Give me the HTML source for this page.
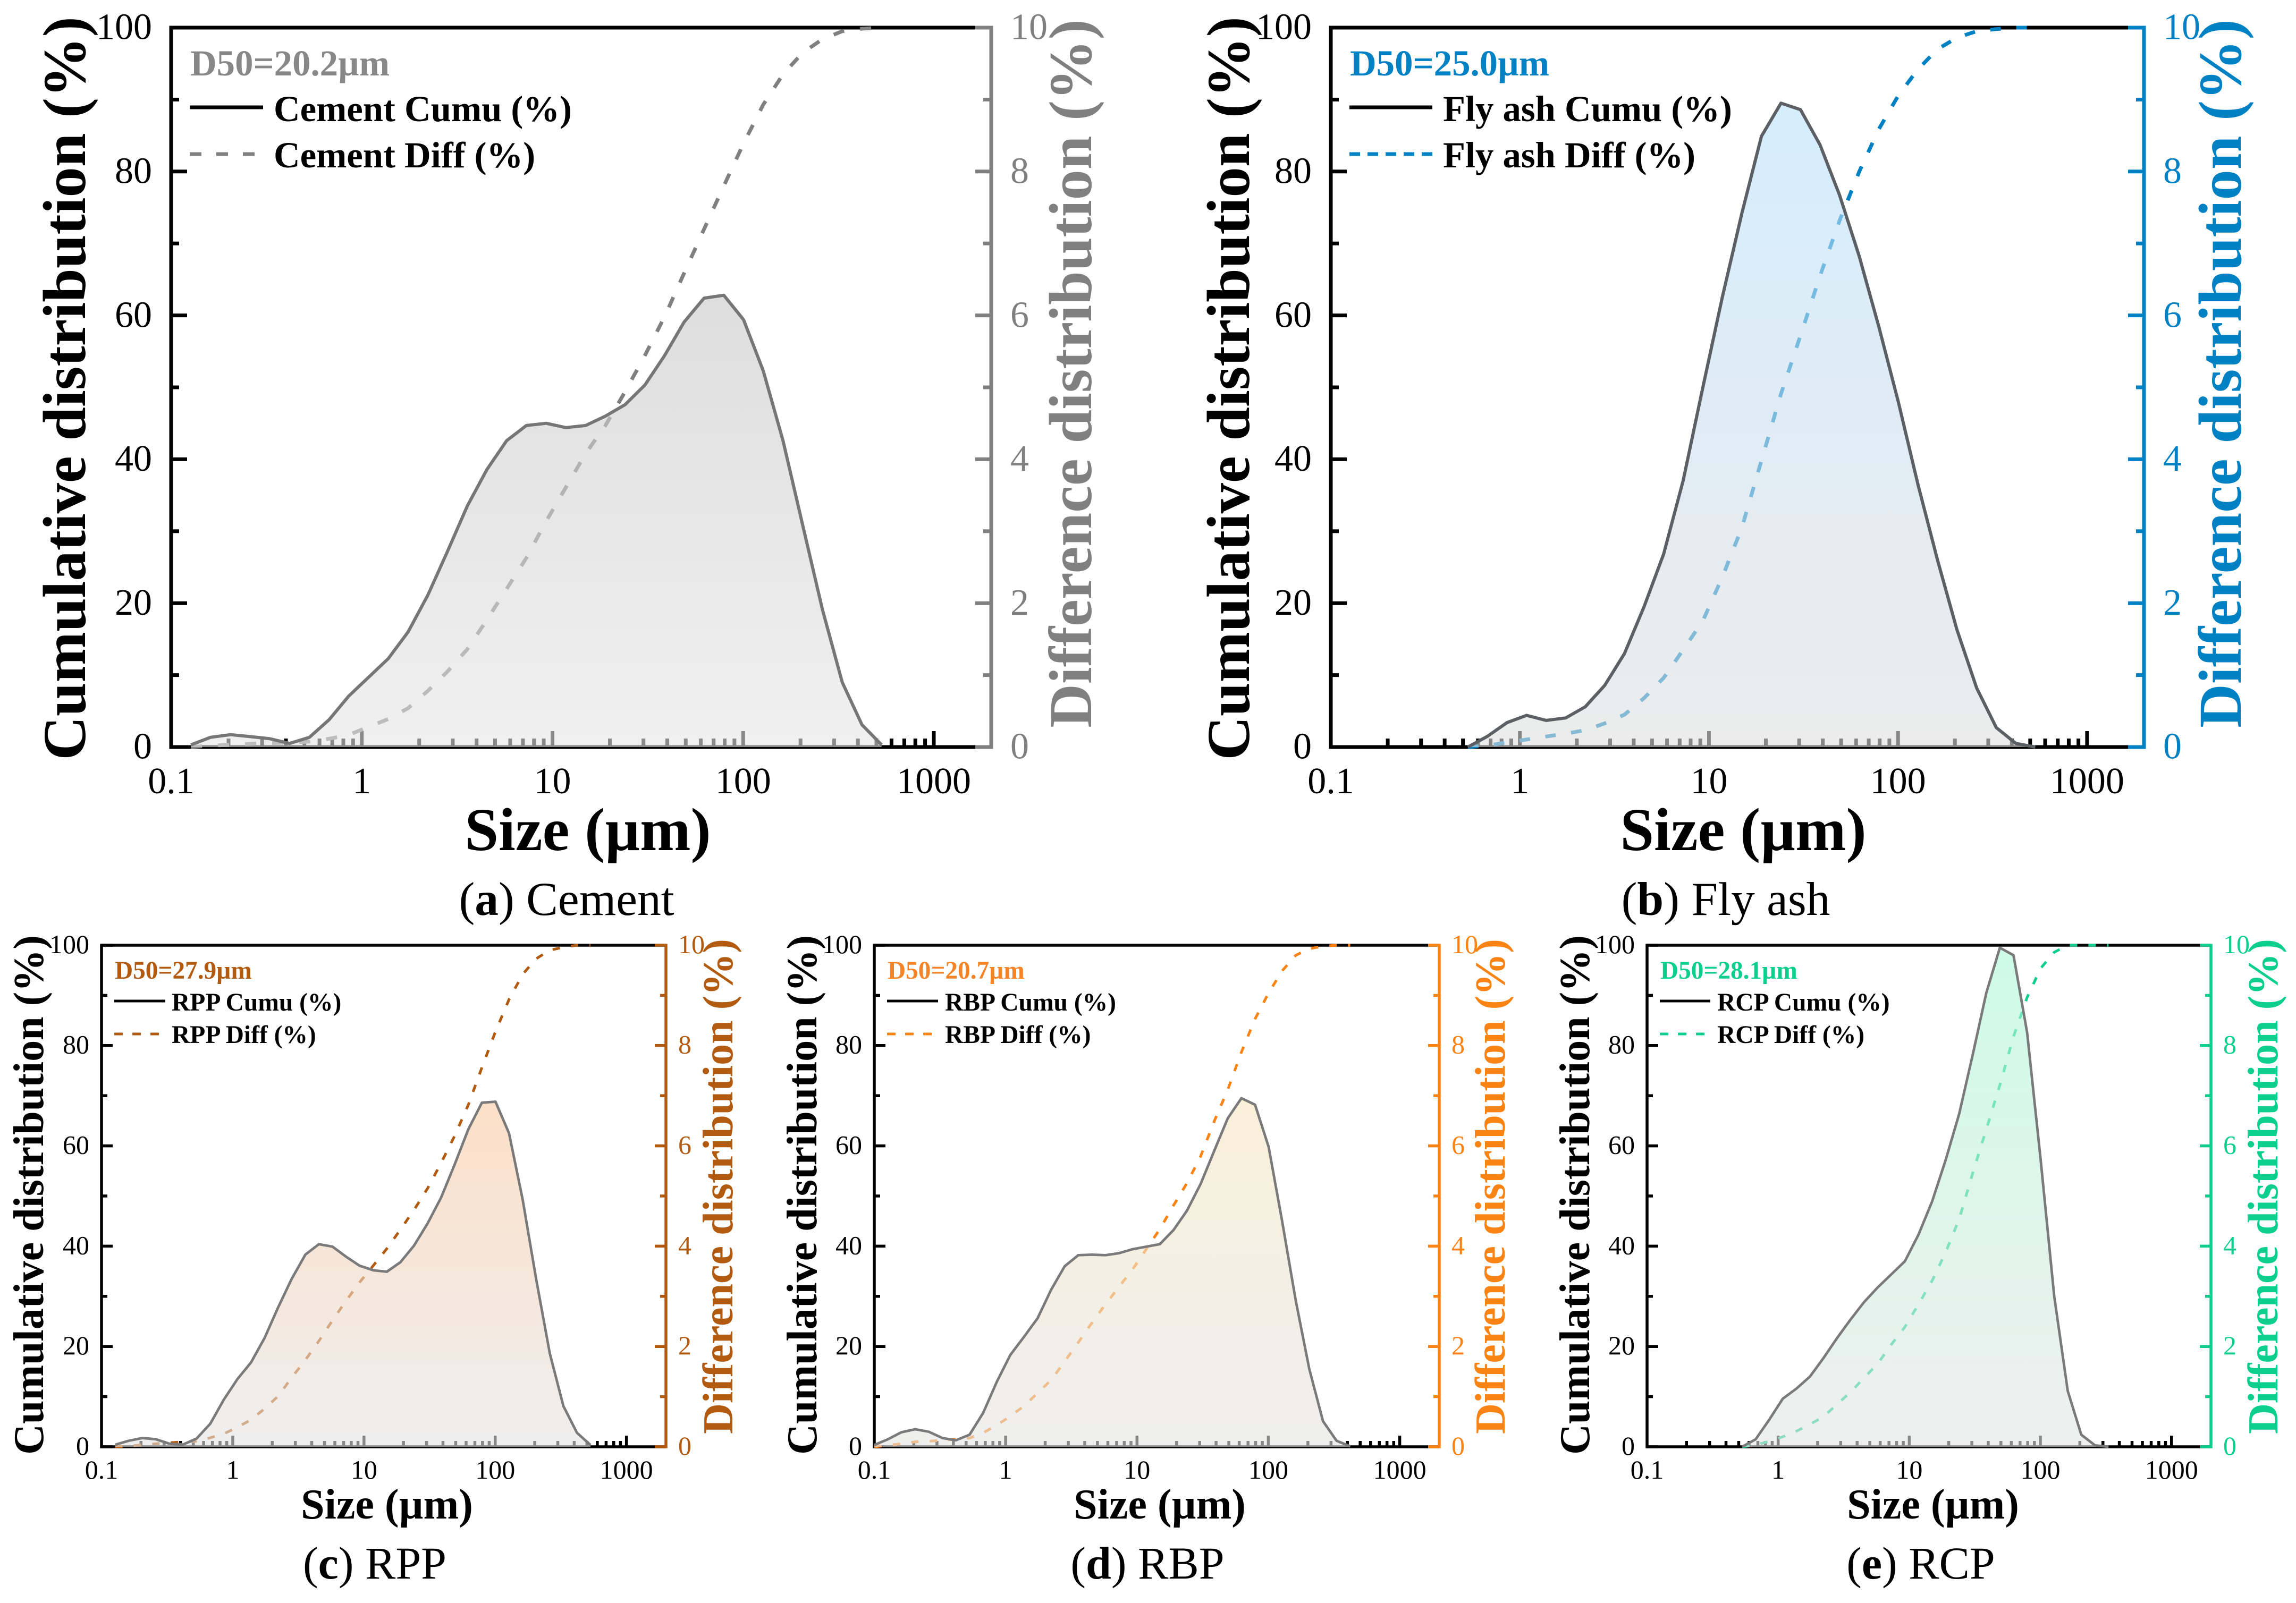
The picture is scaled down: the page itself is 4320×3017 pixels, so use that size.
<!DOCTYPE html>
<html lang="en">
<head>
<meta charset="utf-8">
<title>Particle size distributions</title>
<style>
html,body{margin:0;padding:0;background:#fff;}
svg{display:block;font-family:"Liberation Serif","Times New Roman",serif;}
</style>
</head>
<body>
<svg id="figure" xmlns="http://www.w3.org/2000/svg" width="4320" height="3017" viewBox="0 0 4320 3017">
<rect x="0" y="0" width="4320" height="3017" fill="#ffffff"/>
<defs id="defs"></defs>
</svg>
<script>
// ---------- data ----------
const sizes = [0.1,0.127,0.161,0.205,0.26,0.33,0.418,0.531,0.674,0.855,1.085,1.377,1.748,2.218,2.815,3.573,4.535,5.754,7.3,9.27,11.76,14.93,18.95,24.04,30.5,38.7,49.1,62.4,79.2,100.5,127.5,161.8,205,260.6,331,420,532];

const cementCumu = [null,0.3,1.35,1.72,1.45,1.15,0.5,1.35,3.8,7.1,9.7,12.3,16,21.1,27.2,33.5,38.6,42.6,44.7,45,44.4,44.7,46,47.6,50.3,54.4,59.1,62.4,62.8,59.4,52.3,42.6,30.9,19.1,9,3.1,0.3];
const cementDiff = [null,0,0.02,0.03,0.045,0.055,0.062,0.075,0.115,0.17,0.28,0.39,0.54,0.78,1.05,1.36,1.77,2.2,2.63,3.14,3.61,4.08,4.47,4.94,5.44,5.98,6.59,7.2,7.8,8.39,8.93,9.35,9.65,9.84,9.95,9.985,10];

const flyAshCumu = [null,null,null,null,null,null,null,0,1.5,3.4,4.4,3.7,4.05,5.6,8.6,13,19.5,26.8,37,49.9,62.5,74.2,84.9,89.5,88.6,83.7,76.7,68.2,58.4,47.9,36.5,26,16.3,8.2,2.7,0.5,0];
const flyAshDiff = [null,null,null,null,null,null,null,0,0.02,0.065,0.105,0.146,0.186,0.235,0.33,0.45,0.68,0.96,1.35,1.75,2.36,3.05,3.98,4.91,5.72,6.55,7.32,8,8.59,9.06,9.42,9.7,9.86,9.95,9.98,10,10];

const rppCumu = [null,0.4,1.2,1.75,1.5,0.6,0.45,1.65,4.6,9.4,13.5,16.8,21.7,27.8,33.5,38.3,40.4,39.9,37.9,36.1,35.2,34.9,36.8,40.1,44.5,49.7,56.3,63.3,68.6,68.8,62.5,49.3,33.5,18.6,8.1,2.8,0.35];
const rppDiff = [null,0,0.01,0.04,0.06,0.08,0.1,0.11,0.18,0.26,0.39,0.54,0.76,1.01,1.38,1.73,2.11,2.52,2.91,3.28,3.61,3.95,4.33,4.72,5.15,5.66,6.2,6.82,7.56,8.28,8.92,9.42,9.73,9.9,9.96,10,10];

const rbpCumu = [0.35,1.5,2.9,3.5,3,1.75,1.3,2.4,6.75,12.9,18.3,21.9,25.6,31.3,36,38.2,38.3,38.2,38.6,39.4,39.9,40.4,43.2,47.1,52.4,59,65.5,69.5,68.2,59.8,44.9,29.1,15.5,5.1,1.2,0.1,null];
const rbpDiff = [0,0.03,0.06,0.1,0.11,0.13,0.15,0.175,0.28,0.43,0.61,0.81,1.07,1.33,1.7,2.08,2.47,2.84,3.19,3.54,3.94,4.34,4.81,5.26,5.79,6.49,7.12,7.87,8.53,9.05,9.49,9.8,9.93,9.98,10,10,null];

const rcpCumu = [null,null,null,null,null,null,null,0,1.5,5.4,9.6,11.6,14,17.7,21.7,25.4,28.9,31.8,34.4,37,42.3,48.9,57.2,66.4,78.2,90.5,99.5,98,82.6,57.2,30,11.1,2.4,0.3,0,null,null];
const rcpDiff = [null,null,null,null,null,null,null,0,0.035,0.11,0.2,0.31,0.45,0.6,0.85,1.09,1.38,1.66,2.04,2.39,2.84,3.31,3.88,4.54,5.46,6.33,7.21,8.18,8.96,9.54,9.86,10,10,10,10,null,null];

const xTickValues = [0.1,1,10,100,1000];
const xTickLabels = ["0.1","1","10","100","1000"];
const xMinorMultipliers = [2,3,4,5,6,7,8,9];
const leftTickValues = [0,20,40,60,80,100];
const leftMinorValues = [10,30,50,70,90];
const rightTickValues = [0,2,4,6,8,10];
const rightMinorValues = [1,3,5,7,9];

// ---------- layout and style of each panel ----------
const big = {axisW:7, major:30, minor:15, xMajor:30, xMinor:16, lineW:6, dashW:7, keyW:7, tick:70, title:114.5, legend:68.7, d50:68.8,
  labelGapL:36, labelGapR:36, xLabelDy:87, d50Dx:36, d50Y:142, legY1:228, legY2:315, lineY1:202, lineY2:290, lineDx1:35, capSize:89.5};
const small = {axisW:5.5, major:21, minor:11, xMajor:21, xMinor:11, lineW:4.8, dashW:5, keyW:5, tick:50, title:80, legend:47.5, d50:47.3,
  labelGapL:23, labelGapR:23, xLabelDy:60, d50Dx:25, d50Y:1842, legY1:1902, legY2:1963, lineY1:1884, lineY2:1946, lineDx1:24, capSize:86};

const panels = [
 {key:'cement', name:'Cement', cap:'a', s:big, L:322, R:1865, T:52, B:1406, color:'#808080', d50Color:'#888888', d50:'D50=20.2µm',
  cumu:cementCumu, diff:cementDiff, legendCumu:'Cement Cumu (%)', legendDiff:'Cement Diff (%)', gradTop:'#c8c8c8', gradBot:'#e6e6e6', lineColor:'#767676', dash:'21 30', keyDash:'22 28',
  leftTitleX:160, leftTitleY:731, rightTitleX:2053, rightTitleY:703, xTitleX:1106, xTitleY:1600, capX:1066, capY:1722, legDx:193, lineDx2:173},
 {key:'fly-ash', name:'Fly ash', cap:'b', s:big, L:2504, R:4034, T:52, B:1406, color:'#0081c4', d50Color:'#0081c4', d50:'D50=25.0µm',
  cumu:flyAshCumu, diff:flyAshDiff, legendCumu:'Fly ash Cumu (%)', legendDiff:'Fly ash Diff (%)', gradTop:'#b9e1fc', gradBot:'#dfdfdf', lineColor:'#5c6064', dash:'20 29', keyDash:'20 14',
  leftTitleX:2350, leftTitleY:731, rightTitleX:4216, rightTitleY:703, xTitleX:3280, xTitleY:1600, capX:3247, capY:1722, legDx:211, lineDx2:191},
 {key:'rpp', name:'RPP', cap:'c', s:small, L:191, R:1253, T:1779, B:2723, color:'#b25a10', d50Color:'#b25a10', d50:'D50=27.9µm',
  cumu:rppCumu, diff:rppDiff, legendCumu:'RPP Cumu (%)', legendDiff:'RPP Diff (%)', gradTop:'#facaa3', gradBot:'#e4e4e4', lineColor:'#7a7a7a', dash:'14 21', keyDash:'16 18',
  leftTitleX:81, leftTitleY:2249, rightTitleX:1378, rightTitleY:2233, xTitleX:728, xTitleY:2858, capX:705, capY:2971, legDx:132, lineDx2:120},
 {key:'rbp', name:'RBP', cap:'d', s:small, L:1645, R:2708, T:1779, B:2723, color:'#fb8313', d50Color:'#f58426', d50:'D50=20.7µm',
  cumu:rbpCumu, diff:rbpDiff, legendCumu:'RBP Cumu (%)', legendDiff:'RBP Diff (%)', gradTop:'#f5e6c1', gradBot:'#e4e4e4', lineColor:'#7a7a7a', dash:'14 21', keyDash:'16 18',
  leftTitleX:1536, leftTitleY:2249, rightTitleX:2831, rightTitleY:2233, xTitleX:2182, xTitleY:2858, capX:2159, capY:2971, legDx:133, lineDx2:120},
 {key:'rcp', name:'RCP', cap:'e', s:small, L:3099, R:4160, T:1779, B:2723, color:'#0ccf8e', d50Color:'#0ccf8e', d50:'D50=28.1µm',
  cumu:rcpCumu, diff:rcpDiff, legendCumu:'RCP Cumu (%)', legendDiff:'RCP Diff (%)', gradTop:'#acf8d9', gradBot:'#e4e5e4', lineColor:'#7a7a7a', dash:'14 21', keyDash:'16 18',
  leftTitleX:2990, leftTitleY:2249, rightTitleX:4285, rightTitleY:2233, xTitleX:3637, xTitleY:2858, capX:3614, capY:2971, legDx:132, lineDx2:119}
];

const X_MIN = 0.1, X_MAX = 2000;
const NS = 'http://www.w3.org/2000/svg';
const root = document.getElementById('figure');
const defs = document.getElementById('defs');

function make(parent, tag, props, content) {
  const el = document.createElementNS(NS, tag);
  for (const k in props) el.setAttribute(k, props[k]);
  if (content !== undefined) el.textContent = content;
  parent.appendChild(el);
  return el;
}

function drawPanel(p) {
  const s = p.s;
  const xScale = v => p.L + (Math.log10(v) - Math.log10(X_MIN)) / (Math.log10(X_MAX) - Math.log10(X_MIN)) * (p.R - p.L);
  const leftScale = v => p.B - (v / 100) * (p.B - p.T);
  const rightScale = v => p.B - (v / 10) * (p.B - p.T);

  const g = make(root, 'g', {});
  
  

  // frame
  const topLine = make(g, 'line', {x1:p.L, x2:p.R, y1:p.T, y2:p.T, stroke:'#000', 'stroke-width':s.axisW});
  
  
  const xAxis = make(g, 'line', {x1:p.L, x2:p.R, y1:p.B, y2:p.B, stroke:'#000', 'stroke-width':s.axisW});
  
  
  const leftAxis = make(g, 'line', {x1:p.L, x2:p.L, y1:p.T - s.axisW/2, y2:p.B + s.axisW/2, stroke:'#000', 'stroke-width':s.axisW});
  
  

  // x ticks
  xTickValues.forEach((v, i) => {
    const x = xScale(v);
    if (i > 0) {
      const t = make(g, 'line', {x1:x, x2:x, y1:p.B, y2:p.B - s.xMajor, stroke:'#000', 'stroke-width':s.axisW});
      
      
    }
    const lab = make(g, 'text', {x:x, y:p.B + s.xLabelDy, 'font-size':s.tick, 'text-anchor':'middle', fill:'#000'}, xTickLabels[i]);
    
    
    if (v < 1000) {
      xMinorMultipliers.forEach(m => {
        const mx = xScale(v * m);
        const mt = make(g, 'line', {x1:mx, x2:mx, y1:p.B, y2:p.B - s.xMinor, stroke:'#000', 'stroke-width':s.axisW});
        
        
      });
    }
  });

  // left ticks
  leftTickValues.forEach(v => {
    const y = leftScale(v);
    const t = make(g, 'line', {x1:p.L, x2:p.L + s.major, y1:y, y2:y, stroke:'#000', 'stroke-width':s.axisW});
    
    
    const lab = make(g, 'text', {x:p.L - s.labelGapL, y:y - 2 + s.tick*0.338, 'font-size':s.tick, 'text-anchor':'end', fill:'#000'}, String(v));
    
    
  });
  leftMinorValues.forEach(v => {
    const y = leftScale(v);
    const t = make(g, 'line', {x1:p.L, x2:p.L + s.minor, y1:y, y2:y, stroke:'#000', 'stroke-width':s.axisW});
    
    
  });

  // right axis
  const rightAxis = make(g, 'line', {x1:p.R, x2:p.R, y1:p.T - s.axisW/2, y2:p.B + s.axisW/2, stroke:p.color, 'stroke-width':s.axisW});
  
  
  rightTickValues.forEach(v => {
    const y = rightScale(v);
    const t = make(g, 'line', {x1:p.R, x2:p.R - s.major, y1:y, y2:y, stroke:p.color, 'stroke-width':s.axisW});
    
    
    const lab = make(g, 'text', {x:p.R + s.labelGapR, y:y - 2 + s.tick*0.338, 'font-size':s.tick, 'text-anchor':'start', fill:p.color}, String(v));
    
    
  });
  rightMinorValues.forEach(v => {
    const y = rightScale(v);
    const t = make(g, 'line', {x1:p.R, x2:p.R - s.minor, y1:y, y2:y, stroke:p.color, 'stroke-width':s.axisW});
    
    
  });

  // dashed series sits under the translucent area
  const diffPts = sizes.map((v, i) => p.diff[i] === null ? null : [xScale(v), rightScale(p.diff[i])]).filter(Boolean);
  const diffLine = make(g, 'polyline', {points:diffPts.map(q => q[0].toFixed(1) + ',' + q[1].toFixed(1)).join(' '), fill:'none', stroke:p.color, 'stroke-width':s.dashW, 'stroke-dasharray':p.dash, 'stroke-linejoin':'round'});
  
  

  // gradient area
  const gid = 'grad-' + p.key;
  const grad = make(defs, 'linearGradient', {id:gid, x1:0, y1:0, x2:0, y2:1});
  make(grad, 'stop', {offset:'0%', 'stop-color':p.gradTop});
  make(grad, 'stop', {offset:'100%', 'stop-color':p.gradBot});

  const cumuPts = sizes.map((v, i) => p.cumu[i] === null ? null : [xScale(v), leftScale(p.cumu[i])]).filter(Boolean);
  const lineStr = cumuPts.map(q => q[0].toFixed(1) + ',' + q[1].toFixed(1)).join(' L');
  const area = make(g, 'path', {d:'M' + cumuPts[0][0].toFixed(1) + ',' + p.B + ' L' + lineStr + ' L' + cumuPts[cumuPts.length - 1][0].toFixed(1) + ',' + p.B + ' Z', fill:'url(#' + gid + ')', 'fill-opacity':0.6});
  
  

  const cumuLine = make(g, 'path', {d:'M' + lineStr, fill:'none', stroke:p.lineColor, 'stroke-width':s.lineW, 'stroke-linejoin':'round'});
  
  

  // axis titles
  const leftTitle = make(g, 'text', {transform:'translate(' + p.leftTitleX + ',' + p.leftTitleY + ') rotate(-90)', 'font-size':s.title, 'font-weight':'bold', 'text-anchor':'middle', fill:'#000'}, 'Cumulative distribution (%)');
  
  
  const rightTitle = make(g, 'text', {transform:'translate(' + p.rightTitleX + ',' + p.rightTitleY + ') rotate(-90)', 'font-size':s.title, 'font-weight':'bold', 'text-anchor':'middle', fill:p.color}, 'Difference distribution (%)');
  
  
  const xTitle = make(g, 'text', {x:p.xTitleX, y:p.xTitleY, 'font-size':s.title, 'font-weight':'bold', 'text-anchor':'middle', fill:'#000'}, 'Size (µm)');
  
  

  // legend
  const d50 = make(g, 'text', {x:p.L + s.d50Dx, y:s.d50Y, 'font-size':s.d50, 'font-weight':'bold', fill:p.d50Color}, p.d50);
  
  
  const solidKey = make(g, 'line', {x1:p.L + s.lineDx1, x2:p.L + p.lineDx2, y1:s.lineY1, y2:s.lineY1, stroke:'#000', 'stroke-width':s.keyW});
  
  
  const solidText = make(g, 'text', {x:p.L + p.legDx, y:s.legY1, 'font-size':s.legend, 'font-weight':'bold', fill:'#000'}, p.legendCumu);
  
  
  const dashKey = make(g, 'line', {x1:p.L + s.lineDx1, x2:p.L + p.lineDx2, y1:s.lineY2, y2:s.lineY2, stroke:p.color, 'stroke-width':s.keyW, 'stroke-dasharray':p.keyDash});
  
  
  const dashText = make(g, 'text', {x:p.L + p.legDx, y:s.legY2, 'font-size':s.legend, 'font-weight':'bold', fill:'#000'}, p.legendDiff);
  
  

  // caption
  const cap = make(g, 'text', {x:p.capX, y:p.capY, 'font-size':s.capSize, 'text-anchor':'middle', fill:'#000'});
  
  
  make(cap, 'tspan', {}, '(');
  make(cap, 'tspan', {'font-weight':'bold'}, p.cap);
  make(cap, 'tspan', {}, ') ' + p.name);
}

panels.forEach(drawPanel);
</script>
</body>
</html>
